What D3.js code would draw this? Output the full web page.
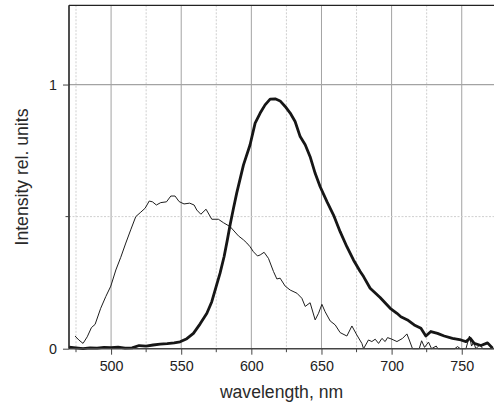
<!DOCTYPE html>
<html>
<head>
<meta charset="utf-8">
<script src="https://cdn.jsdelivr.net/npm/d3@7/dist/d3.min.js"></script>
<style>
  html, body { margin: 0; padding: 0; background: #fff; }
  svg { display: block; font-family: "Liberation Sans", Arial, sans-serif; }
</style>
</head>
<body>
<svg id="chart" width="494" height="407"></svg>
<script>
// ---- data ----
const thinX = [474.3,477,480,483,486,488.6,492.6,496.2,499.8,503.4,506.9,510.5,514,517.6,521.2,524.3,527.2,529.5,532.3,535.4,539.5,542.6,545.6,548.5,552,556,559.2,561.1,564,567.7,571.8,576.5,580.1,584.9,590.8,594.4,596.8,599.1,601.5,604.4,606.3,609.1,612.2,615.8,618.2,620.5,624.1,627.7,632.5,636,638.4,641.9,645.5,647.9,650.3,652.6,656.2,659.8,663.3,668.1,671.7,675.2,678.8,680,683.5,685.9,688.3,690.7,693.1,695.4,697.1,700.2,703.8,707.8,710.9,712.6,714.9,719.7,721.4,723.5,726.3,728.5,731.8,733,745,747,749,753,755.5,757,758.5,760,763,765,773];
const thinY = [0.048,0.033,0.02,0.045,0.08,0.092,0.153,0.197,0.237,0.298,0.346,0.40,0.45,0.50,0.517,0.532,0.559,0.556,0.544,0.553,0.556,0.578,0.578,0.557,0.548,0.551,0.544,0.525,0.509,0.528,0.49,0.49,0.477,0.462,0.427,0.412,0.40,0.386,0.367,0.351,0.355,0.365,0.342,0.292,0.264,0.267,0.237,0.222,0.21,0.191,0.16,0.174,0.109,0.134,0.168,0.14,0.105,0.09,0.061,0.048,0.086,0.052,0.02,0.0,0.033,0.027,0.036,0.02,0.039,0.027,0.042,0.036,0.027,0.039,0.056,0.033,0,0,0.03,0.005,0.025,0,0.01,0,0,0.008,0,0,0.048,0.01,0.025,0,0.015,0,0];

const thickX = [470,475,480,485,490,495,500,505,510,515,520,525,530,535,540,545,549.2,554,558.7,563.5,568.3,571.8,574.9,577.7,580.6,582.9,584.9,587.2,589.6,594.4,599.1,602.7,606.3,609.8,613.4,617,620.5,624.1,627.7,631.2,634.8,638.4,641.9,645.5,649,653.9,658.6,663.3,668.1,672.8,677.6,680,684.7,691.8,699,703.8,706.6,711.3,716.1,720.9,724.4,728,732.7,737.5,743.4,749.4,753,756,758.9,763.7,768.4,772];
const thickY = [0.006,0.003,0.0,0.003,0.002,0.005,0.004,0.006,0.002,0.003,0.012,0.01,0.014,0.017,0.019,0.022,0.026,0.038,0.058,0.094,0.134,0.178,0.235,0.286,0.349,0.412,0.47,0.53,0.59,0.696,0.772,0.854,0.892,0.923,0.945,0.946,0.938,0.917,0.892,0.86,0.803,0.772,0.727,0.664,0.614,0.557,0.506,0.443,0.386,0.336,0.292,0.273,0.229,0.194,0.153,0.134,0.121,0.109,0.09,0.077,0.048,0.065,0.058,0.048,0.039,0.033,0.027,0.04,0.02,0.012,0.022,0.002];

const xMajorTicks = [500,550,600,650,700,750];
const xMinorTicks = [475,525,575,625,675,725];
const yMajorTicks = [0,1];
const yMinorTicks = [0.5];
const xLabel = "wavelength, nm";
const yLabel = "Intensity rel. units";

// ---- layout ----
const svg = d3.select("#chart");
const pLeft = 69, pRight = 494, pTop = 5.3, pBottom = 348.7;
const x = d3.scaleLinear().domain([470, 773]).range([pLeft, pRight]);
const y = d3.scaleLinear().domain([0, 1.3]).range([pBottom, pTop]);

// grid
const grid = svg.append("g");
grid.selectAll(".vminor").data(xMinorTicks).join("line")
  .attr("x1", d => x(d)).attr("x2", d => x(d))
  .attr("y1", pTop).attr("y2", pBottom)
  .attr("stroke", "#cfcfcf").attr("stroke-width", 1).attr("stroke-dasharray", "2,1.5");
grid.selectAll(".vmajor").data(xMajorTicks).join("line")
  .attr("x1", d => x(d)).attr("x2", d => x(d))
  .attr("y1", pTop).attr("y2", pBottom)
  .attr("stroke", "#a3a3a3").attr("stroke-width", 1);
grid.selectAll(".hminor").data(yMinorTicks).join("line")
  .attr("x1", pLeft).attr("x2", pRight)
  .attr("y1", d => y(d)).attr("y2", d => y(d))
  .attr("stroke", "#cfcfcf").attr("stroke-width", 1).attr("stroke-dasharray", "2,1.5");
grid.selectAll(".hmajor").data(yMajorTicks.filter(d => d > 0)).join("line")
  .attr("x1", pLeft).attr("x2", pRight)
  .attr("y1", d => y(d)).attr("y2", d => y(d))
  .attr("stroke", "#a3a3a3").attr("stroke-width", 1.3);

// top frame
svg.append("line").attr("x1", pLeft).attr("x2", pRight).attr("y1", pTop).attr("y2", pTop)
  .attr("stroke", "#222").attr("stroke-width", 1.2);

// curves
const line = d3.line().x(d => x(d[0])).y(d => y(d[1]));
const thin = thinX.map((v, i) => [v, thinY[i]]);
const thick = thickX.map((v, i) => [v, thickY[i]]);
svg.append("path").attr("d", line(thin)).attr("fill", "none")
  .attr("stroke", "#1e1e1e").attr("stroke-width", 1).attr("stroke-linejoin", "round");
svg.append("path").attr("d", line(thick)).attr("fill", "none")
  .attr("stroke", "#161616").attr("stroke-width", 2.8).attr("stroke-linejoin", "round");

// x axis
const xAxis = svg.append("g").attr("transform", `translate(0,${pBottom})`);
xAxis.call(d3.axisBottom(x).tickValues(xMajorTicks).tickSize(6).tickPadding(6).tickFormat(d3.format("d")));
xAxis.append("g").selectAll("line").data(xMinorTicks).join("line")
  .attr("x1", d => x(d)).attr("x2", d => x(d)).attr("y1", 0).attr("y2", 3.5)
  .attr("stroke", "#444");
xAxis.select(".domain").attr("d", `M${pLeft},0H${pRight}`).attr("stroke", "#444").attr("stroke-width", 1.6);
xAxis.selectAll(".tick line").attr("stroke", "#444");
xAxis.selectAll("text").attr("font-size", 14.3).attr("fill", "#222")
  .attr("font-family", "Liberation Sans, Arial, sans-serif");

// y axis
const yAxis = svg.append("g").attr("transform", `translate(${pLeft},0)`);
yAxis.call(d3.axisLeft(y).tickValues(yMajorTicks).tickSize(6).tickPadding(6).tickFormat(d3.format("d")));
yAxis.append("g").selectAll("line").data(yMinorTicks).join("line")
  .attr("x1", 0).attr("x2", -3.5).attr("y1", d => y(d)).attr("y2", d => y(d))
  .attr("stroke", "#444");
yAxis.select(".domain").attr("d", `M0,${pBottom}V${pTop}`).attr("stroke", "#222").attr("stroke-width", 1.6);
yAxis.selectAll(".tick line").attr("stroke", "#444");
yAxis.selectAll("text").attr("font-size", 14.3).attr("fill", "#222")
  .attr("font-family", "Liberation Sans, Arial, sans-serif");

// axis titles
svg.append("text").attr("x", (pLeft + pRight) / 2).attr("y", 398)
  .attr("text-anchor", "middle").attr("font-size", 17.6).attr("fill", "#2a2a2a")
  .text(xLabel);
svg.append("text").attr("transform", `translate(28,${(pTop + pBottom) / 2}) rotate(-90)`)
  .attr("text-anchor", "middle").attr("font-size", 17.6).attr("fill", "#2a2a2a")
  .text(yLabel);
</script>
</body>
</html>
